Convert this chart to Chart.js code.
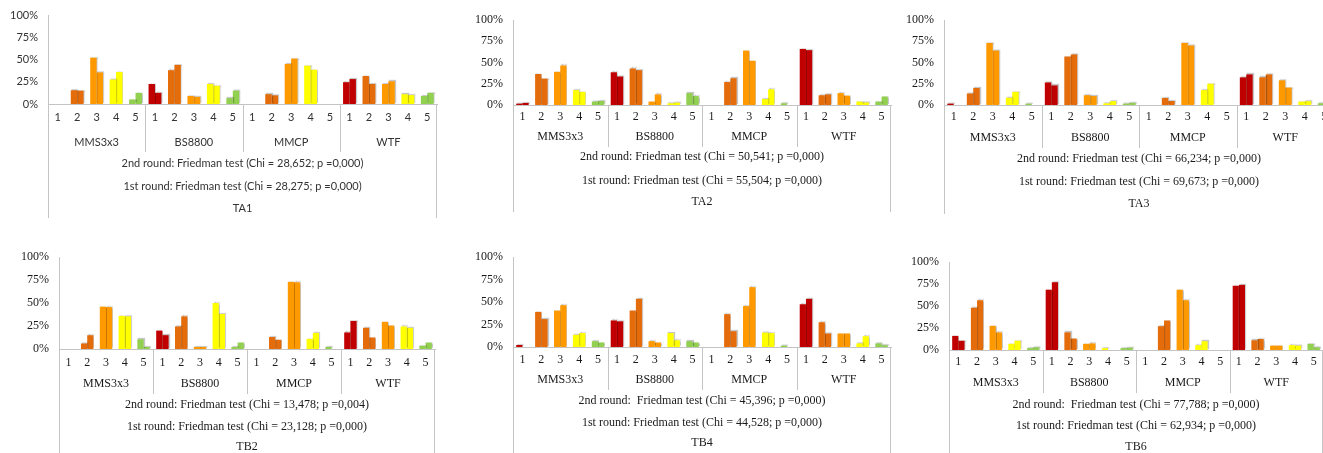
<!DOCTYPE html>
<html lang="en">
<head>
<meta charset="UTF-8">
<title>Friedman test - ratings per method</title>
<script src="https://cdn.jsdelivr.net/npm/chart.js"></script>
<style>
  html, body { margin: 0; padding: 0; background: #fff; }
  body { position: relative; width: 1323px; height: 453px; overflow: hidden; }
  canvas { position: absolute; }
</style>
</head>
<body>
<canvas id="ta1"></canvas>
<canvas id="ta2"></canvas>
<canvas id="ta3"></canvas>
<canvas id="tb2"></canvas>
<canvas id="tb4"></canvas>
<canvas id="tb6"></canvas>
<script>
// categories
const ratings = ['1', '2', '3', '4', '5'];
const methods = ['MMS3x3', 'BS8800', 'MMCP', 'WTF'];
const yStep = 25;

// values (%) per method x rating, left bar = 1st round, right bar = 2nd round
const ta1Round1 = [0, 15.5, 52, 27.5, 5,   22.5, 38, 9, 22.5, 6.5,   0, 11, 45, 43, 0,   24.5, 31.5, 22.5, 11, 9];
const ta1Round2 = [0, 15, 35.5, 36, 12.5,  12.5, 44, 8, 20.5, 15,    0, 9.7, 51, 38.5, 0, 28, 22.5, 25.5, 10, 12.5];
const ta2Round1 = [1.6, 36.5, 39, 17.5, 4, 38.5, 43, 4, 2, 14,       0, 27, 64, 7, 2,    66, 11.5, 14, 4, 4];
const ta2Round2 = [2.4, 31, 46.5, 15.5, 4.7, 33.5, 41, 12.5, 2.7, 10.5, 0, 31.5, 52, 18.5, 0, 64.5, 12.5, 11, 3, 10];
const ta3Round1 = [1.6, 13.5, 73, 8.5, 1.5, 26.5, 57, 11.5, 2, 1.6,  0, 8.2, 73, 17.5, 0, 32.5, 32.5, 29, 4, 2];
const ta3Round2 = [0, 20, 64, 15.5, 0,     23, 59.5, 10.5, 4.5, 2.5, 0, 4.7, 70, 25, 0,   36, 36, 20.5, 4.5, 1];
const tb2Round1 = [0, 6, 46, 36, 10.5,     20, 24.5, 2.2, 50, 2.2,   0, 13, 73, 11, 2.2,  18, 23, 29.5, 24.5, 3.5];
const tb2Round2 = [0, 15, 45.5, 35.5, 2.2, 15, 35.5, 2.2, 38, 7,     0, 10, 72.5, 17.5, 0, 30.5, 12.5, 25.5, 23, 7];
const tb4Round1 = [2.2, 39, 40.5, 13.5, 6.5, 29.5, 40.5, 6.5, 15.5, 6.5, 0, 36.5, 45.5, 16, 1.5, 47.5, 27.5, 15, 4, 4];
const tb4Round2 = [0, 31, 46.5, 15.5, 5,   28.5, 53.5, 5, 7.5, 5,    0, 17.5, 66.5, 15.5, 0, 53.5, 15, 15, 12, 2];
const tb6Round1 = [16, 48, 27.5, 7, 2,     68.5, 20, 7, 2, 2,        0, 27, 68.5, 5.5, 0,  73, 11, 5, 5.5, 7];
const tb6Round2 = [10.5, 56.5, 20, 10.5, 3, 77, 13, 7.5, 0, 2.5,     0, 33.5, 56.5, 10, 0, 74, 12.5, 5, 5, 3];

const ratingColors = ['#C00000', '#E46C0A', '#FF9900', '#FFFF00', '#92D050'];
const lineColor = '#c4c4c4';
const serif = '"Liberation Serif", "Times New Roman", serif';
const sans = 'Lato, "Open Sans", sans-serif';

// panel placement (page px): axis x, plot right, 100% line, 0% line, bottom, text rows
const panels = [
  {id: 'ta1', title: 'TA1', axisX: 48, right: 437, top: 15, zero: 104, bottom: 218, rows: [117, 142, 163, 186, 208], font: sans, size: 11, color: '#333',
   r1: ta1Round1, r2: ta1Round2,
   t2: '2nd round: Friedman test (Chi = 28,652; p =0,000)', t1: '1st round: Friedman test (Chi = 28,275; p =0,000)'},
  {id: 'ta2', title: 'TA2', axisX: 513, right: 891, top: 20, zero: 105, bottom: 212, rows: [117, 137, 157, 181, 202], font: serif, size: 12, color: '#1a1a1a',
   r1: ta2Round1, r2: ta2Round2,
   t2: '2nd round: Friedman test (Chi = 50,541; p =0,000)', t1: '1st round: Friedman test (Chi = 55,504; p =0,000)'},
  {id: 'ta3', title: 'TA3', axisX: 944, right: 1334, top: 20, zero: 105, bottom: 214, rows: [117, 138, 159, 182, 204], font: serif, size: 12, color: '#1a1a1a',
   r1: ta3Round1, r2: ta3Round2,
   t2: '2nd round: Friedman test (Chi = 66,234; p =0,000)', t1: '1st round: Friedman test (Chi = 69,673; p =0,000)'},
  {id: 'tb2', title: 'TB2', axisX: 59, right: 435, top: 257, zero: 349, bottom: 453, rows: [363, 384, 405, 427, 447], font: serif, size: 12, color: '#1a1a1a',
   r1: tb2Round1, r2: tb2Round2,
   t2: '2nd round: Friedman test (Chi = 13,478; p =0,004)', t1: '1st round: Friedman test (Chi = 23,128; p =0,000)'},
  {id: 'tb4', title: 'TB4', axisX: 513, right: 891, top: 257, zero: 347, bottom: 453, rows: [360, 380, 401, 423, 443], font: serif, size: 12, color: '#1a1a1a',
   r1: tb4Round1, r2: tb4Round2,
   t2: '2nd round:  Friedman test (Chi = 45,396; p =0,000)', t1: '1st round: Friedman test (Chi = 44,528; p =0,000)'},
  {id: 'tb6', title: 'TB6', axisX: 949, right: 1323, top: 262, zero: 350, bottom: 453, rows: [362, 383, 405, 426, 447], font: serif, size: 12, color: '#1a1a1a',
   r1: tb6Round1, r2: tb6Round2,
   t2: '2nd round:  Friedman test (Chi = 77,788; p =0,000)', t1: '1st round: Friedman test (Chi = 62,934; p =0,000)'}
];

const yAxisW = 48;
const padTop = 10;

// light drop shadow on the bars, like the original
const barShadow = {
  id: 'barShadow',
  beforeDatasetsDraw(chart) {
    const ctx = chart.ctx;
    ctx.save();
    ctx.shadowColor = 'rgba(0,0,0,0.22)';
    ctx.shadowOffsetX = 1;
    ctx.shadowOffsetY = -1;
    ctx.shadowBlur = 1;
  },
  afterDatasetsDraw(chart) {
    chart.ctx.restore();
  }
};

// multi-level category axis + the friedman lines below
const axisText = {
  id: 'axisText',
  afterDraw(chart, args, o) {
    const {ctx, chartArea: a, scales: {x}} = chart;
    const rows = o.rows.map(r => r - o.canvasTop);
    const H = chart.height;
    const line = (x0, y0, x1, y1) => {
      ctx.beginPath(); ctx.moveTo(x0, y0); ctx.lineTo(x1, y1); ctx.stroke();
    };
    ctx.save();
    ctx.strokeStyle = lineColor;
    ctx.lineWidth = 1;
    const lx = Math.round(a.left) + 0.5;
    const rx = Math.round(a.right) - 0.5;
    line(lx, a.bottom, lx, H);
    line(rx, a.bottom, rx, H);
    for (let g = 1; g < methods.length; g++) {
      const sx = Math.round((x.getPixelForTick(g * 5 - 1) + x.getPixelForTick(g * 5)) / 2) + 0.5;
      line(sx, a.bottom, sx, rows[1] + 10);
    }
    ctx.fillStyle = o.color;
    ctx.font = o.size + 'px ' + o.font;
    ctx.textAlign = 'center';
    ctx.textBaseline = 'middle';
    chart.data.labels.forEach((lab, i) => ctx.fillText(lab, x.getPixelForTick(i), rows[0]));
    methods.forEach((m, g) => {
      const cx = (x.getPixelForTick(g * 5) + x.getPixelForTick(g * 5 + 4)) / 2;
      ctx.fillText(m, cx, rows[1]);
    });
    const mid = (a.left + a.right) / 2;
    ctx.fillText(o.t2, mid, rows[2]);
    ctx.fillText(o.t1, mid, rows[3]);
    ctx.fillText(o.title, mid, rows[4]);
    ctx.restore();
  }
};

const labels = methods.flatMap(() => ratings);
const barColors = labels.map((r, i) => ratingColors[i % 5]);

panels.forEach(p => {
  const cv = document.getElementById(p.id);
  const left = p.axisX - yAxisW;
  const top = p.top - padTop;
  const w = p.right + 2 - left;
  const h = p.bottom - top;
  cv.width = w; cv.height = h;
  cv.style.left = left + 'px';
  cv.style.top = top + 'px';
  cv.style.width = w + 'px';
  cv.style.height = h + 'px';

  new Chart(cv, {
    type: 'bar',
    data: {
      labels: labels,
      datasets: [
        {label: '1st round', data: p.r1, backgroundColor: barColors, borderWidth: 0},
        {label: '2nd round', data: p.r2, backgroundColor: barColors, borderWidth: 0}
      ]
    },
    options: {
      responsive: false,
      animation: false,
      events: [],
      categoryPercentage: 0.66,
      barPercentage: 1.0,
      layout: {padding: {top: padTop, right: 2, left: 0, bottom: 0}},
      plugins: {
        legend: {display: false},
        tooltip: {enabled: false},
        axisText: {rows: p.rows, canvasTop: top, font: p.font, size: p.size, color: p.color,
                   t1: p.t1, t2: p.t2, title: p.title}
      },
      scales: {
        x: {
          grid: {display: false, drawTicks: false},
          border: {display: true, color: lineColor},
          ticks: {display: false},
          afterFit: s => { s.height = p.bottom - p.zero; s.paddingLeft = 0; s.paddingRight = 0; }
        },
        y: {
          min: 0, max: 100,
          grid: {display: false, drawTicks: false},
          border: {display: true, color: lineColor},
          ticks: {
            stepSize: yStep,
            padding: 10,
            color: p.color,
            font: {family: p.font, size: p.size},
            callback: v => v + '%'
          },
          afterFit: s => { s.width = yAxisW; s.paddingTop = 0; s.paddingBottom = 0; }
        }
      }
    },
    plugins: [barShadow, axisText]
  });
});
</script>
</body>
</html>
